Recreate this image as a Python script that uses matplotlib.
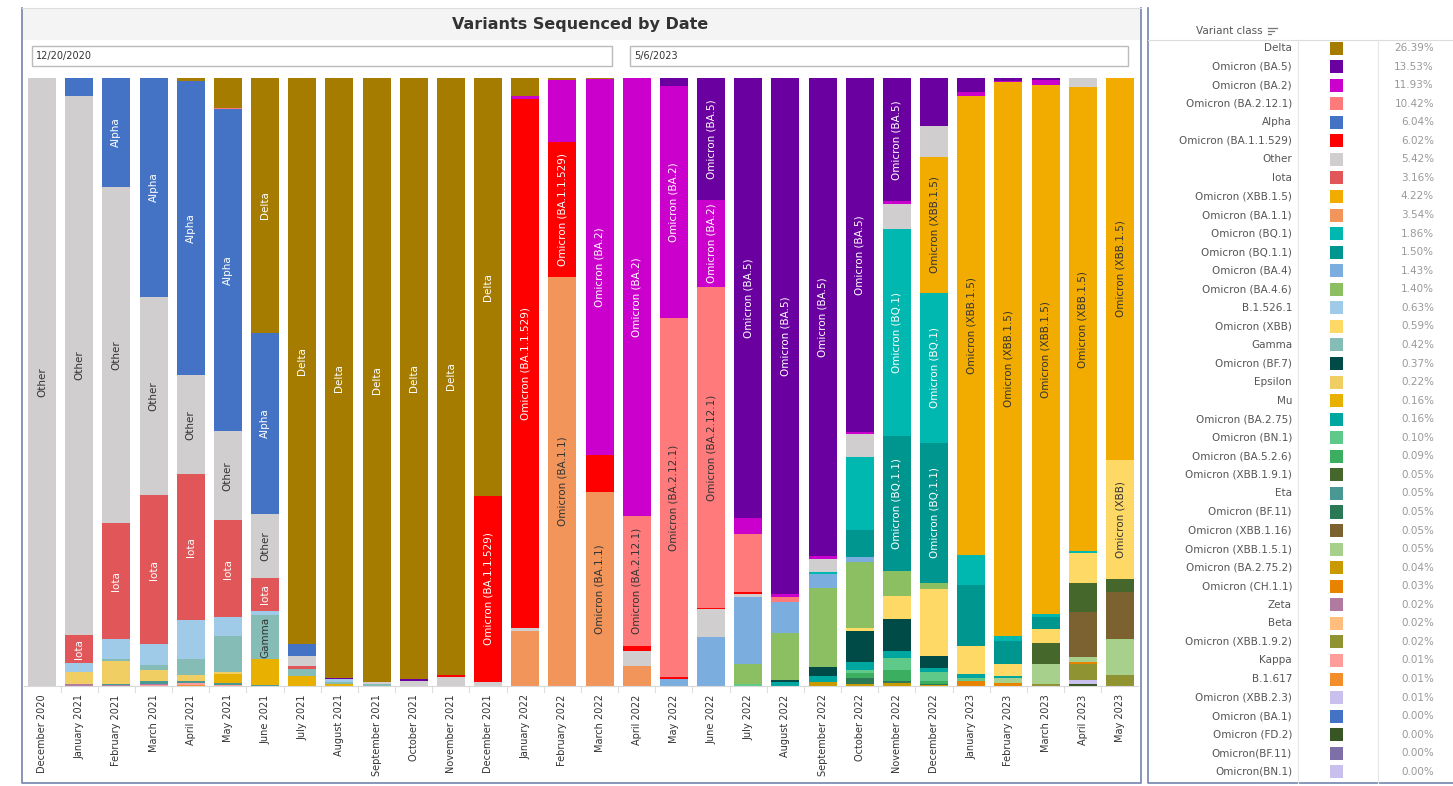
import numpy as np
import matplotlib.pyplot as plt
from matplotlib.patches import Rectangle
from matplotlib.colors import to_rgb

months = ["December 2020", "January 2021", "February 2021", "March 2021", "April 2021",
          "May 2021", "June 2021", "July 2021", "August 2021", "September 2021",
          "October 2021", "November 2021", "December 2021", "January 2022", "February 2022",
          "March 2022", "April 2022", "May 2022", "June 2022", "July 2022", "August 2022",
          "September 2022", "October 2022", "November 2022", "December 2022", "January 2023",
          "February 2023", "March 2023", "April 2023", "May 2023"]

# legend order (top of stack first)
variants = ["Delta", "Omicron (BA.5)", "Omicron (BA.2)", "Omicron (BA.2.12.1)", "Alpha",
            "Omicron (BA.1.1.529)", "Other", "Iota", "Omicron (XBB.1.5)", "Omicron (BA.1.1)",
            "Omicron (BQ.1)", "Omicron (BQ.1.1)", "Omicron (BA.4)", "Omicron (BA.4.6)",
            "B.1.526.1", "Omicron (XBB)", "Gamma", "Omicron (BF.7)", "Epsilon", "Mu",
            "Omicron (BA.2.75)", "Omicron (BN.1)", "Omicron (BA.5.2.6)", "Omicron (XBB.1.9.1)",
            "Eta", "Omicron (BF.11)", "Omicron (XBB.1.16)", "Omicron (XBB.1.5.1)",
            "Omicron (BA.2.75.2)", "Omicron (CH.1.1)", "Zeta", "Beta", "Omicron (XBB.1.9.2)",
            "Kappa", "B.1.617", "Omicron (XBB.2.3)", "Omicron (BA.1)", "Omicron (FD.2)",
            "Omicron(BF.11)", "Omicron(BN.1)"]

colors = ["#A57C00", "#6A00A0", "#CC00CC", "#FF7B7B", "#4472C4",
          "#FF0000", "#D0CECE", "#E15759", "#F2AC00", "#F1955A",
          "#00B8B0", "#009690", "#7BAEDF", "#8CBF62",
          "#A0CBE8", "#FFD966", "#86BCB6", "#004B48", "#F1CE63", "#E8B000",
          "#00A6A0", "#5FC98A", "#3BAF5F", "#45672C",
          "#499894", "#2B7A55", "#7C6231", "#A8D08D",
          "#C99A00", "#E88300", "#B07AA1", "#FFBE7D", "#8F9331",
          "#FF9D9A", "#F28E2B", "#C9C0EE", "#4472C4", "#375623",
          "#7F6FA8", "#C9C0EE"]

shares = ["26.39%", "13.53%", "11.93%", "10.42%", "6.04%", "6.02%", "5.42%", "3.16%",
          "4.22%", "3.54%", "1.86%", "1.50%", "1.43%", "1.40%", "0.63%", "0.59%", "0.42%",
          "0.37%", "0.22%", "0.16%", "0.16%", "0.10%", "0.09%", "0.05%", "0.05%", "0.05%",
          "0.05%", "0.05%", "0.04%", "0.03%", "0.02%", "0.02%", "0.02%", "0.01%", "0.01%",
          "0.01%", "0.00%", "0.00%", "0.00%", "0.00%"]

# % of sequences per month
dec_2020 = {"Other": 100}
jan_2021 = {"Alpha": 3.0, "Other": 88.6, "Iota": 4.6, "B.1.526.1": 1.5, "Epsilon": 2.0, "Zeta": 0.3}
feb_2021 = {"Alpha": 17.9, "Other": 55.3, "Iota": 19.1, "B.1.526.1": 3.3, "Gamma": 0.3,
            "Epsilon": 3.7, "Eta": 0.2, "Zeta": 0.2}
mar_2021 = {"Alpha": 36.0, "Other": 32.6, "Iota": 24.5, "B.1.526.1": 3.4, "Gamma": 0.8,
            "Epsilon": 1.9, "Eta": 0.4, "Zeta": 0.2, "Kappa": 0.2}
apr_2021 = {"Delta": 0.5, "Alpha": 48.4, "Other": 16.3, "Iota": 24.0, "B.1.526.1": 6.3,
            "Gamma": 2.7, "Epsilon": 1.0, "Eta": 0.3, "Kappa": 0.3, "B.1.617": 0.2}
may_2021 = {"Delta": 4.9, "Omicron (BA.2.12.1)": 0.2, "Alpha": 53.0, "Other": 14.6, "Iota": 16.0,
            "B.1.526.1": 3.0, "Gamma": 6.0, "Epsilon": 0.4, "Mu": 1.4, "Eta": 0.4, "Kappa": 0.1}
jun_2021 = {"Delta": 41.9, "Alpha": 29.8, "Other": 10.5, "Iota": 5.4, "B.1.526.1": 0.8,
            "Gamma": 7.2, "Mu": 4.2, "Eta": 0.2}
jul_2021 = {"Delta": 93.1, "Alpha": 2.0, "Other": 1.6, "Iota": 0.5, "Gamma": 1.2, "Mu": 1.6}
aug_2021 = {"Delta": 98.7, "Omicron (BA.5)": 0.2, "B.1.526.1": 0.4, "Gamma": 0.3, "Mu": 0.4}
sep_2021 = {"Delta": 99.3, "Other": 0.4, "Gamma": 0.3}
oct_2021 = {"Delta": 98.8, "Omicron (BA.5)": 0.3, "Other": 0.9}
nov_2021 = {"Delta": 98.2, "Omicron (BA.1.1.529)": 0.3, "Other": 1.5}
dec_2021 = {"Delta": 68.7, "Omicron (BA.1.1.529)": 30.6, "Other": 0.7}
jan_2022 = {"Delta": 2.9, "Omicron (BA.2)": 0.5, "Omicron (BA.1.1.529)": 87.0, "Other": 0.6,
            "Omicron (BA.1.1)": 9.0}
feb_2022 = {"Delta": 0.3, "Omicron (BA.2)": 10.3, "Omicron (BA.1.1.529)": 22.1, "Omicron (BA.1.1)": 67.3}
mar_2022 = {"Delta": 0.1, "Omicron (BA.2)": 61.9, "Omicron (BA.1.1.529)": 6.1, "Omicron (BA.1.1)": 31.9}
apr_2022 = {"Omicron (BA.2)": 72.0, "Omicron (BA.2.12.1)": 21.4, "Omicron (BA.1.1.529)": 0.8,
            "Other": 2.5, "Omicron (BA.1.1)": 3.3}
may_2022 = {"Omicron (BA.5)": 1.3, "Omicron (BA.2)": 38.2, "Omicron (BA.2.12.1)": 59.0,
            "Omicron (BA.1.1.529)": 0.3, "Omicron (BA.4)": 1.2}
jun_2022 = {"Omicron (BA.5)": 20.1, "Omicron (BA.2)": 14.3, "Omicron (BA.2.12.1)": 52.8,
            "Omicron (BA.1.1.529)": 0.2, "Other": 4.6, "Omicron (BA.4)": 8.0}
jul_2022 = {"Omicron (BA.5)": 72.4, "Omicron (BA.2)": 2.6, "Omicron (BA.2.12.1)": 9.5,
            "Omicron (BA.1.1.529)": 0.3, "Other": 0.5, "Omicron (BA.4)": 11.0,
            "Omicron (BA.4.6)": 3.3, "Omicron (BN.1)": 0.4}
aug_2022 = {"Omicron (BA.5)": 84.9, "Omicron (BA.2)": 0.4, "Omicron (BA.2.12.1)": 0.9,
            "Omicron (BA.4)": 5.1, "Omicron (BA.4.6)": 7.7, "Omicron (BF.7)": 0.3,
            "Omicron (BA.2.75)": 0.7}
sep_2022 = {"Omicron (BA.5)": 78.6, "Omicron (BA.2)": 0.5, "Other": 2.2, "Omicron (BQ.1)": 0.2,
            "Omicron (BA.4)": 2.4, "Omicron (BA.4.6)": 12.9, "Omicron (BF.7)": 1.5,
            "Omicron (BA.2.75)": 1.1, "Omicron (BA.2.75.2)": 0.6}
oct_2022 = {"Omicron (BA.5)": 58.3, "Omicron (BA.2)": 0.3, "Other": 3.9, "Omicron (BQ.1)": 12.0,
            "Omicron (BQ.1.1)": 4.4, "Omicron (BA.4)": 0.8, "Omicron (BA.4.6)": 11.0,
            "Omicron (XBB)": 0.4, "Omicron (BF.7)": 5.1, "Omicron (BA.2.75)": 1.4,
            "Omicron (BN.1)": 0.4, "Omicron (BA.5.2.6)": 0.9, "Omicron (BF.11)": 0.9,
            "Omicron (BA.2.75.2)": 0.4}
nov_2022 = {"Omicron (BA.5)": 20.3, "Omicron (BA.2)": 0.4, "Other": 4.2, "Omicron (BQ.1)": 33.9,
            "Omicron (BQ.1.1)": 22.3, "Omicron (BA.4.6)": 4.1, "Omicron (XBB)": 3.7,
            "Omicron (BF.7)": 5.3, "Omicron (BA.2.75)": 1.2, "Omicron (BN.1)": 1.9,
            "Omicron (BA.5.2.6)": 1.9, "Omicron (BF.11)": 0.3, "Omicron (BA.2.75.2)": 0.5}
dec_2022 = {"Omicron (BA.5)": 7.9, "Other": 5.1, "Omicron (XBB.1.5)": 22.3, "Omicron (BQ.1)": 24.8,
            "Omicron (BQ.1.1)": 22.9, "Omicron (BA.4.6)": 1.1, "Omicron (XBB)": 11.0,
            "Omicron (BF.7)": 1.9, "Omicron (BA.2.75)": 0.7, "Omicron (BN.1)": 1.5,
            "Omicron (BA.5.2.6)": 0.4, "Omicron (BF.11)": 0.2, "Omicron (BA.2.75.2)": 0.2}
jan_2023 = {"Omicron (BA.5)": 2.3, "Omicron (BA.2)": 0.7, "Omicron (XBB.1.5)": 75.4,
            "Omicron (BQ.1)": 5.0, "Omicron (BQ.1.1)": 10.0, "Omicron (XBB)": 4.6,
            "Omicron (BA.2.75)": 0.7, "Omicron (BN.1)": 0.5, "Omicron (CH.1.1)": 0.8}
feb_2023 = {"Omicron (BA.5)": 0.5, "Omicron (BA.2)": 0.2, "Omicron (XBB.1.5)": 91.0,
            "Omicron (BQ.1)": 0.9, "Omicron (BQ.1.1)": 3.7, "Omicron (XBB)": 2.1,
            "Omicron (BA.2.75)": 0.3, "Omicron (XBB.1.5.1)": 0.8, "Omicron (CH.1.1)": 0.5}
mar_2023 = {"Omicron (BA.5)": 0.4, "Omicron (BA.2)": 0.7, "Omicron (XBB.1.5)": 87.1,
            "Omicron (BQ.1)": 0.4, "Omicron (BQ.1.1)": 2.1, "Omicron (XBB)": 2.3,
            "Omicron (XBB.1.9.1)": 3.4, "Omicron (XBB.1.5.1)": 3.3, "Omicron (XBB.1.9.2)": 0.3}
apr_2023 = {"Other": 1.5, "Omicron (XBB.1.5)": 76.3, "Omicron (BQ.1)": 0.4, "Omicron (XBB)": 4.8,
            "Omicron (XBB.1.9.1)": 4.9, "Omicron (XBB.1.16)": 7.3, "Omicron (XBB.1.5.1)": 0.9,
            "Omicron (CH.1.1)": 0.3, "Omicron (XBB.1.9.2)": 2.6, "Omicron (XBB.2.3)": 0.7,
            "Omicron (FD.2)": 0.3}
may_2023 = {"Omicron (XBB.1.5)": 62.8, "Omicron (XBB)": 19.6, "Omicron (XBB.1.9.1)": 2.1,
            "Omicron (XBB.1.16)": 7.8, "Omicron (XBB.1.5.1)": 5.9, "Omicron (XBB.1.9.2)": 1.8}

month_mix = [dec_2020, jan_2021, feb_2021, mar_2021, apr_2021, may_2021, jun_2021, jul_2021,
             aug_2021, sep_2021, oct_2021, nov_2021, dec_2021, jan_2022, feb_2022, mar_2022,
             apr_2022, may_2022, jun_2022, jul_2022, aug_2022, sep_2022, oct_2022, nov_2022,
             dec_2022, jan_2023, feb_2023, mar_2023, apr_2023, may_2023]

W, H = 1453, 786
fig = plt.figure(figsize=(W / 100, H / 100), dpi=100)

# background layer in pixel coords
bg = fig.add_axes([0, 0, 1, 1])
bg.set_xlim(0, W)
bg.set_ylim(H, 0)
bg.axis('off')

frame_col = '#7385AC'
bg.add_patch(Rectangle((22, 8), 1119, 32, color='#F4F4F4', lw=0))
bg.plot([22, 22, 1141, 1141], [8, 783, 783, 8], color=frame_col, lw=1.2)
bg.plot([22, 1141], [8, 8], color='#DDDDDD', lw=0.8)
bg.text(580, 25, "Variants Sequenced by Date", ha='center', va='center',
        fontsize=11.5, fontweight='bold', color='#333333')
for x0, x1, txt in [(32, 612, "12/20/2020"), (630, 1128, "5/6/2023")]:
    bg.add_patch(Rectangle((x0, 46), x1 - x0, 20, facecolor='white', edgecolor='#BBBBBB', lw=1))
    bg.text(x0 + 4, 56.5, txt, ha='left', va='center', fontsize=7, color='#333333')

# legend panel
bg.plot([1148, 1148, W], [8, 783, 783], color=frame_col, lw=1.2)
bg.plot([1148, W], [40, 40], color='#DDDDDD', lw=0.8)
bg.plot([1298, 1298], [40, 783], color='#E6E6E6', lw=0.8)
bg.plot([1378, 1378], [40, 783], color='#E6E6E6', lw=0.8)
bg.text(1263, 31.5, "Variant class", ha='right', va='center', fontsize=7.5, color='#555555')
for k, ln in enumerate([9, 6, 3]):
    bg.plot([1268, 1268 + ln], [28 + k * 2.8] * 2, color='#777777', lw=0.9)

for k, (name, col, sh) in enumerate(zip(variants, colors, shares)):
    y = 48 + k * 18.56
    bg.text(1292, y, name, ha='right', va='center', fontsize=7.5, color='#555555')
    bg.add_patch(Rectangle((1330, y - 6.5), 13, 13, color=col, lw=0))
    bg.text(1434, y, sh, ha='right', va='center', fontsize=7.5, color='#999999')

# bar chart
ax = fig.add_axes([24 / W, (H - 686) / H, (1138 - 24) / W, (686 - 78) / H])
ax.set_facecolor('none')
n = len(months)
x = np.arange(n)
totals = np.array([sum(m.values()) for m in month_mix])
bottom = np.zeros(n)
labels = []


def text_color(c):
    r, g, b = to_rgb(c)
    return '#333333' if 0.299 * r + 0.587 * g + 0.114 * b > 0.6 else 'white'


for name, col in reversed(list(zip(variants, colors))):
    vals = np.array([m.get(name, 0) for m in month_mix]) / totals * 100
    ax.bar(x, vals, 0.753, bottom=bottom, color=col, linewidth=0)
    for i in range(n):
        if vals[i] >= 4.5:
            t = ax.text(x[i], bottom[i] + vals[i] / 2, name, rotation=90, ha='center',
                        va='center', fontsize=7.5, color=text_color(col))
            labels.append((t, vals[i]))
    bottom += vals

ax.set_xlim(-0.484, n - 1 + 0.484)
ax.set_ylim(0, 100)
ax.set_yticks([])
ax.set_xticks(x, months, rotation=90, fontsize=7, color='#333333')
ax.tick_params(axis='x', length=0, pad=6)
for s in ['top', 'left', 'right']:
    ax.spines[s].set_visible(False)
ax.spines['bottom'].set_color('#D9D9D9')

for i in range(n - 1):
    xp = 42 + 37.17 * (i + 0.5)
    bg.plot([xp, xp], [687, 692], color='#DDDDDD', lw=0.8)

# keep only the labels that fit inside their segment
fig.canvas.draw()
r = fig.canvas.get_renderer()
px_per_pct = ax.get_window_extent(r).height / 100
for t, v in labels:
    if t.get_window_extent(r).height + 2 > v * px_per_pct:
        t.remove()

fig.savefig("out.png", dpi=100)
